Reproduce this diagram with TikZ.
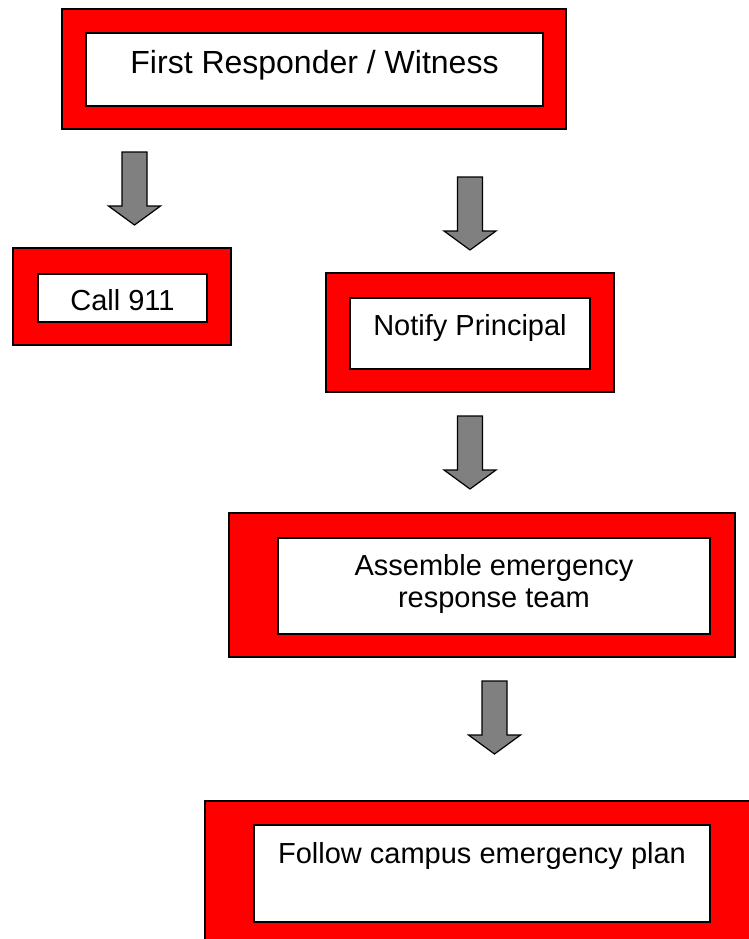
\documentclass[tikz,border=0pt]{standalone}
\usepackage{fontspec}
\setmainfont{Liberation Sans}
\definecolor{boxred}{HTML}{FF0000}
\definecolor{arrowgray}{HTML}{808080}
\begin{document}
\begin{tikzpicture}[x=1pt, y=-1pt, line width=1.6pt,
  frame node/.style={rectangle,draw=black,fill=boxred,inner sep=0pt},
  text node/.style={rectangle,draw=black,fill=white,inner sep=0pt,anchor=north,align=center,font=\fontsize{29}{32}\selectfont},
  block arrow/.pic={\draw[fill=arrowgray,line width=1.2pt] (-12.5,0) -- (12.5,0) -- (12.5,54) -- (26,54) -- (0,73) -- (-26,54) -- (-12.5,54) -- cycle;}]
\useasboundingbox (0,0) rectangle (749,939);
\clip (0,0) rectangle (749,939);
% red frames
\node[frame node,minimum width=504pt,minimum height=120pt] (first frame) at (314,69) {};
\node[frame node,minimum width=218pt,minimum height=97pt] (call frame) at (122,296.5) {};
\node[frame node,minimum width=288pt,minimum height=119pt] (notify frame) at (470,332.5) {};
\node[frame node,minimum width=506pt,minimum height=144pt] (assemble frame) at (482,585) {};
\node[frame node,minimum width=555pt,minimum height=149pt] (follow frame) at (482.5,875.5) {};
% white text boxes
\node[text node,minimum width=457pt,text height=41pt,text depth=32pt,font=\fontsize{32}{36}\selectfont] (first) at (314.5,32) {First Responder / Witness};
\node[text node,minimum width=169pt,text height=37pt,text depth=11pt] (call) at (122.5,273) {Call 911};
\node[text node,minimum width=240pt,text height=38pt,text depth=33pt] (notify) at (470,297) {Notify Principal};
\node[text node,minimum width=432pt,text height=70pt,text depth=26pt] (assemble) at (494,537) {Assemble emergency\\response team};
\node[text node,minimum width=456pt,text height=39pt,text depth=58pt] (follow) at (482,824) {Follow campus emergency plan};
% arrows
\pic at (134.5,152) {block arrow};
\pic at (470,177) {block arrow};
\pic at (470,416) {block arrow};
\pic at (494.5,681) {block arrow};
\end{tikzpicture}
\end{document}
